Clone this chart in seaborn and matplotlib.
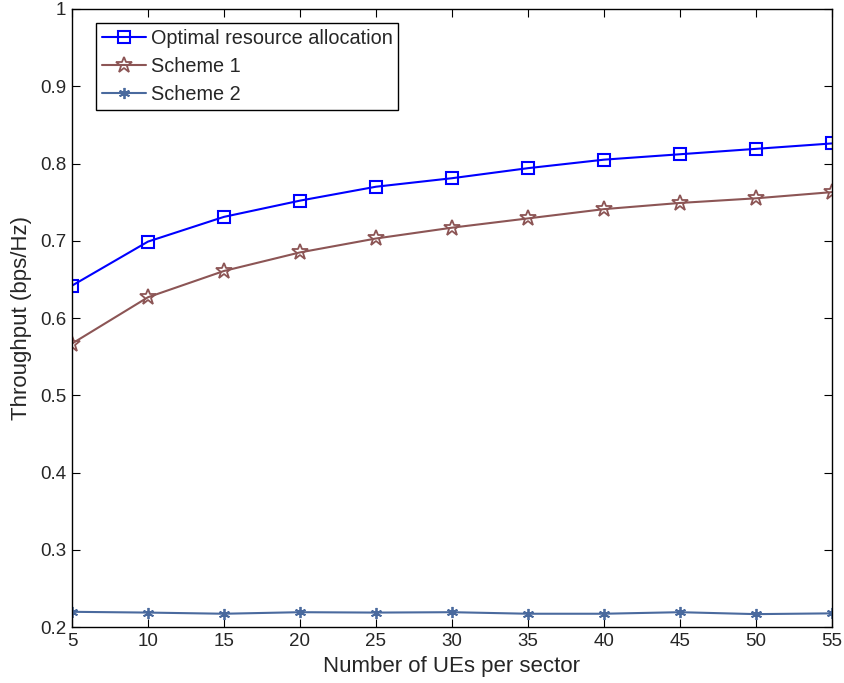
import numpy as np
import pandas as pd
import matplotlib
matplotlib.use("Agg")
import matplotlib.pyplot as plt
import seaborn as sns
from matplotlib.ticker import FuncFormatter

ues = [5, 10, 15, 20, 25, 30, 35, 40, 45, 50, 55]
optimal = [0.642, 0.699, 0.731, 0.752, 0.770, 0.781, 0.794, 0.805, 0.812, 0.819, 0.826]
scheme1 = [0.567, 0.627, 0.661, 0.685, 0.703, 0.717, 0.729, 0.741, 0.749, 0.755, 0.763]
scheme2 = [0.220, 0.219, 0.2175, 0.2195, 0.219, 0.2195, 0.2175, 0.2175, 0.2195, 0.217, 0.218]

labels = ["Optimal resource allocation", "Scheme 1", "Scheme 2"]
colors = ["#0000ff", "#8c5555", "#4a6a9e"]

df = pd.DataFrame({
    "ues": ues * 3,
    "thr": optimal + scheme1 + scheme2,
    "series": sum([[l] * len(ues) for l in labels], []),
})

sns.set_style("white")
plt.rcParams["font.family"] = ["Liberation Sans", "DejaVu Sans"]

fig = plt.figure(figsize=(8.45, 6.83), dpi=100)
ax = fig.add_axes([0.0852, 0.0816, 0.8994, 0.9053])

styles = [
    dict(marker="s", markersize=8, markerfacecolor="none", markeredgewidth=1.5),
    dict(marker="*", markersize=12, markerfacecolor="none", markeredgewidth=1.3),
    dict(marker=(6, 2, 0), markersize=8, markeredgewidth=1.3),
]
for lab, col, st in zip(labels, colors, styles):
    sub = df[df["series"] == lab]
    sns.lineplot(data=sub, x="ues", y="thr", ax=ax, color=col, linewidth=1.5,
                 markeredgecolor=col, label=lab, **st)

ax.set_xlim(5, 55)
ax.set_ylim(0.2, 1.0)
ax.set_xticks(ues)
ax.set_yticks(np.arange(0.2, 1.01, 0.1))
ax.yaxis.set_major_formatter(FuncFormatter(lambda v, p: "%g" % round(v, 1)))
ax.tick_params(direction="in", length=6, width=0.8, labelsize=13.5, color="black",
               top=True, right=True, bottom=True, left=True, pad=4)
for s in ax.spines.values():
    s.set_color("black")
    s.set_linewidth(1.0)

ax.set_xlabel("Number of UEs per sector", fontsize=16)
ax.set_ylabel("Throughput (bps/Hz)", fontsize=16)
ax.xaxis.set_label_coords(0.5, -0.046)
ax.yaxis.set_label_coords(-0.052, 0.5)

leg = ax.legend(loc="upper left", bbox_to_anchor=(24 / 760, 1 - 14 / 618.3),
                borderaxespad=0, fontsize=14.3, frameon=True, fancybox=False,
                edgecolor="black", framealpha=1,
                handlelength=2.2, handletextpad=0.25, labelspacing=0.45, borderpad=0.3)
leg.get_frame().set_linewidth(1.0)

fig.savefig("out.png", dpi=100)
